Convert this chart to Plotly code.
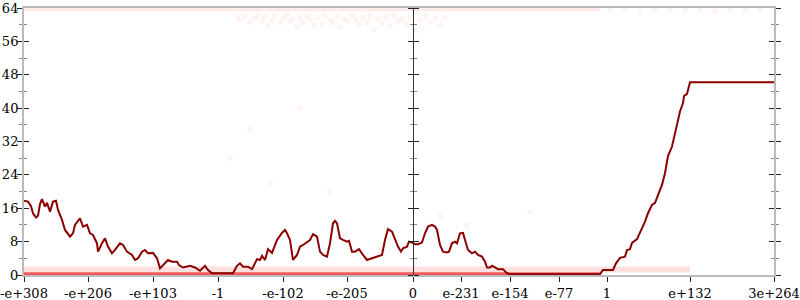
import plotly.graph_objects as go

# ---- data ----
tick_pos = [24, 88, 153, 218, 283, 347, 413, 461, 510, 559, 607, 690, 774]
tick_labels = ["-e+308", "-e+206", "-e+103", "-1", "-e-102", "-e-205", "0",
               "e-231", "e-154", "e-77", "1", "e+132", "3e+264"]

line_x = [24, 28, 31, 33, 36, 38, 40, 42, 45, 47, 50, 53, 56, 58, 62, 65, 70, 73, 75, 78,
          80, 83, 87, 90, 93, 97, 98, 102, 105, 108, 112, 115, 120, 123, 127, 132, 135, 138,
          142, 145, 148, 153, 157, 160, 163, 168, 172, 177, 179, 183, 190, 195, 200, 205,
          208, 212, 233, 237, 240, 243, 248, 252, 257, 260, 262, 265, 268, 272, 277, 282,
          285, 287, 290, 293, 297, 300, 303, 307, 310, 313, 317, 320, 323, 327, 330, 333,
          335, 337, 340, 343, 347, 349, 352, 355, 359, 363, 367, 372, 377, 382, 385, 388,
          392, 395, 398, 401, 403, 407, 409, 412, 415, 418, 422, 425, 428, 432, 435, 437,
          440, 443, 447, 449, 452, 455, 457, 460, 463, 465, 468, 472, 475, 478, 482, 485,
          487, 490, 492, 495, 498, 503, 507, 510, 600, 603, 613, 616, 620, 625, 627, 630,
          632, 637, 640, 643, 645, 648, 652, 655, 658, 662, 665, 667, 668, 672, 675, 678,
          680, 683, 684, 687, 690, 774]
line_y = [17.8, 17.6, 16.5, 14.8, 13.8, 14.2, 17.0, 18.2, 16.4, 17.3, 15.2, 17.6, 17.8, 15.6,
          13.2, 10.8, 9.2, 10.0, 12.0, 12.8, 13.6, 11.6, 12.0, 10.0, 9.6, 7.6, 5.6, 7.6, 8.8,
          6.8, 5.2, 6.0, 7.6, 7.2, 5.6, 4.8, 3.6, 4.0, 5.6, 6.0, 5.2, 5.3, 4.0, 1.6, 2.4, 3.6,
          3.2, 3.2, 2.4, 1.8, 2.2, 1.8, 1.0, 2.2, 1.2, 0.4, 0.4, 2.2, 2.8, 2.0, 2.0, 1.4, 3.8,
          3.6, 4.6, 3.6, 6.2, 5.3, 8.4, 10.1, 10.8, 10.0, 8.4, 3.6, 4.8, 6.8, 7.2, 8.0, 8.4,
          9.8, 9.2, 5.6, 4.8, 4.4, 7.6, 12.4, 13.0, 12.4, 8.8, 8.4, 8.0, 8.2, 5.6, 5.6, 6.2,
          4.8, 3.6, 4.0, 4.4, 4.8, 8.4, 11.0, 10.4, 8.4, 6.8, 5.6, 6.4, 6.8, 8.0, 7.8, 7.4,
          7.4, 7.8, 10.0, 11.6, 12.0, 11.6, 10.8, 7.2, 5.6, 5.4, 5.6, 7.6, 8.0, 7.6, 10.0,
          10.1, 8.4, 6.0, 5.2, 5.6, 4.8, 4.4, 3.2, 1.8, 1.8, 2.2, 1.8, 1.4, 1.4, 0.4, 0.2,
          0.2, 1.2, 1.2, 2.8, 4.1, 4.4, 6.0, 6.2, 7.7, 8.6, 10.2, 11.6, 12.8, 14.8, 16.8,
          17.3, 19.2, 21.6, 24.4, 27.6, 28.5, 30.8, 34.0, 37.2, 39.2, 41.2, 42.9, 43.4,
          46.2, 46.2]

# scattered sample points (faint)
cloud_x = [237, 240, 245, 250, 255, 258, 262, 265, 268, 272, 275, 280, 283, 287, 290, 293,
           297, 300, 303, 307, 310, 314, 318, 322, 325, 330, 333, 337, 340, 344, 348, 352,
           356, 360, 363, 367, 370, 374, 378, 382, 386, 390, 394, 398, 402, 406, 410, 415,
           420, 425, 430, 435, 440, 445, 610, 625, 640, 655, 670, 685, 700, 715, 730, 745, 760,
           230, 270, 300, 330, 345, 380, 440, 467, 530, 250, 415]
cloud_y = [61.8, 61.2, 62.0, 60.5, 61.5, 62.2, 60.8, 61.9, 59.8, 61.0, 62.1, 60.4, 61.6,
           62.3, 60.9, 61.3, 59.6, 61.8, 60.6, 62.0, 61.1, 59.9, 61.7, 60.3, 62.2, 61.0,
           60.5, 61.9, 59.5, 61.4, 60.8, 62.1, 61.2, 60.1, 61.7, 60.6, 62.0, 58.9, 61.3,
           60.4, 61.8, 59.7, 62.2, 60.9, 61.5, 60.2, 61.9, 58.4, 61.1, 62.0, 60.6, 61.4,
           59.8, 61.7, 63.4, 63.6, 63.3, 63.5, 63.4, 63.6, 63.5, 63.3, 63.6, 63.4, 63.5,
           28, 22, 40, 20, 10, 6, 14, 12, 15, 35, 3]

band_x = [[24, 600], [24, 690], [24, 600]]
band_y = [0.3, 1.3, 63.6]

# ---- figure ----
fig = go.Figure()
band_styles = [("rgba(235,20,20,0.7)", 3), ("rgba(255,60,60,0.16)", 6), ("rgba(255,40,40,0.10)", 3)]
for bx, by, (col, w) in zip(band_x, band_y, band_styles):
    fig.add_trace(go.Scatter(x=bx, y=[by, by], mode="lines",
                             line=dict(color=col, width=w), hoverinfo="skip"))
fig.add_trace(go.Scatter(x=cloud_x, y=cloud_y, mode="markers",
                         marker=dict(color="rgba(255,0,0,0.045)", size=6, line=dict(width=0))))
fig.add_trace(go.Scatter(x=line_x, y=line_y, mode="lines",
                         line=dict(color="#8b0000", width=2)))

font = dict(family="DejaVu Serif", size=13, color="#000")
ax_common = dict(range=[0, 64], showgrid=False, zeroline=False, dtick=8, tick0=0,
                 automargin=False)

fig.update_layout(
    width=800, height=300, margin=dict(l=24, r=26, t=8, b=25, autoexpand=False),
    plot_bgcolor="white", paper_bgcolor="white", showlegend=False,
    font=font,
    xaxis=dict(range=[24, 774], tickvals=tick_pos, ticktext=tick_labels,
               showgrid=False, zeroline=False, showline=True, linecolor="#bbb",
               linewidth=2, mirror=True, ticks="outside", ticklen=5, automargin=False,
               tickcolor="#222", tickfont=font),
    yaxis=dict(**ax_common, side="left", showline=True, linecolor="#bbb", linewidth=2,
               ticks="outside", ticklen=5, tickcolor="#222", tickfont=font,
               ticklabelstandoff=-4,
               minor=dict(dtick=4, ticks="outside", ticklen=3, tickcolor="#888")),
    yaxis2=dict(**ax_common, overlaying="y", side="left", anchor="x",
                showline=False, ticks="inside", ticklen=5, tickcolor="#222",
                showticklabels=False,
                minor=dict(dtick=4, ticks="inside", ticklen=3, tickcolor="#888")),
    yaxis3=dict(**ax_common, overlaying="y", side="right", anchor="x",
                showline=True, linecolor="#bbb", linewidth=2,
                ticks="outside", ticklen=5, tickcolor="#222", showticklabels=False,
                minor=dict(dtick=4, ticks="outside", ticklen=3, tickcolor="#888")),
    yaxis4=dict(**ax_common, overlaying="y", side="right", anchor="x",
                showline=False, ticks="inside", ticklen=5, tickcolor="#222",
                showticklabels=False,
                minor=dict(dtick=4, ticks="inside", ticklen=3, tickcolor="#888")),
    yaxis5=dict(**ax_common, overlaying="y", side="left", anchor="free",
                position=(413 - 24) / 750, showline=True, linecolor="#333", linewidth=1,
                ticks="outside", ticklen=5, tickcolor="#222", showticklabels=False,
                minor=dict(dtick=4, ticks="outside", ticklen=3, tickcolor="#888")),
    yaxis6=dict(**ax_common, overlaying="y", side="right", anchor="free",
                position=(413 - 24) / 750, showline=False,
                ticks="outside", ticklen=5, tickcolor="#222", showticklabels=False,
                minor=dict(dtick=4, ticks="outside", ticklen=3, tickcolor="#888")),
)
# invisible anchors so overlay axes render
for i in range(2, 7):
    fig.add_trace(go.Scatter(x=[24], y=[0], yaxis=f"y{i}", mode="markers",
                             marker=dict(opacity=0), hoverinfo="skip"))

fig.write_html("out.html")
